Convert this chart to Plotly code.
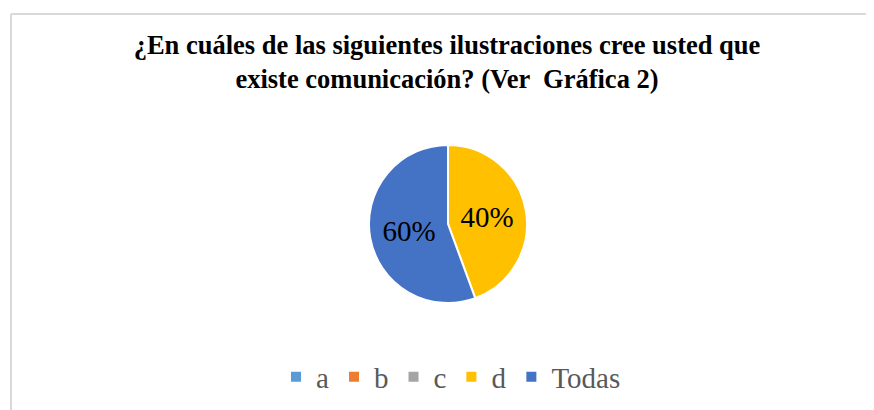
import plotly.graph_objects as go

labels = ["a", "b", "c", "d", "Todas"]
shares = [0, 0, 0, 44.4, 55.6]          # slice sizes as drawn
label_text = ["", "", "", "40%", "60%"]  # data labels as printed
colors = ["#5B9BD5", "#ED7D31", "#A5A5A5", "#FFC000", "#4472C4"]

title_text = ("¿En cuáles de las siguientes ilustraciones cree usted que<br>"
              "existe comunicación? (Ver  Gráfica 2)")

SERIF = "Liberation Serif, Times New Roman, serif"
W, H = 874, 410
OFF = 8  # page body margin offset
cx, cy, r = 448 - OFF, 224 - OFF, 79

fig = go.Figure(go.Pie(
    labels=labels,
    values=shares,
    text=label_text,
    textinfo="text",
    textposition="inside",
    insidetextorientation="horizontal",
    sort=False,
    direction="clockwise",
    rotation=0,
    marker=dict(colors=colors, line=dict(color="white", width=2)),
    textfont=dict(family=SERIF, size=29, color="black"),
    insidetextfont=dict(family=SERIF, size=29, color="black"),
    domain=dict(x=[(cx - r) / W, (cx + r) / W], y=[(H - cy - r) / H, (H - cy + r) / H]),
    showlegend=True,
    hoverinfo="label+percent",
))

fig.update_layout(
    width=W, height=H,
    margin=dict(l=0, r=0, t=0, b=0),
    paper_bgcolor="white",
    plot_bgcolor="white",
    title=dict(
        text=title_text,
        x=(447 - OFF) / W, xanchor="center",
        y=1 - (54 - OFF) / H, yanchor="top",
        font=dict(family=SERIF, size=26.5, color="black", weight="bold"),
    ),
    legend=dict(
        orientation="h",
        x=(451 - OFF) / W, xanchor="center",
        y=1 - (377 - OFF) / H, yanchor="middle",
        font=dict(family=SERIF, size=29, color="#595959"),
        itemclick=False,
        traceorder="normal",
    ),
    shapes=[
        dict(type="line", xref="paper", yref="paper", x0=(11 - OFF) / W, x1=1.01,
             y0=1 - (14 - OFF) / H, y1=1 - (14 - OFF) / H,
             line=dict(color="#D9D9D9", width=2)),
        dict(type="line", xref="paper", yref="paper", x0=(11 - OFF) / W, x1=(11 - OFF) / W,
             y0=-0.01, y1=1 - (14 - OFF) / H,
             line=dict(color="#D9D9D9", width=2)),
    ],
)

fig.write_html("out.html")
